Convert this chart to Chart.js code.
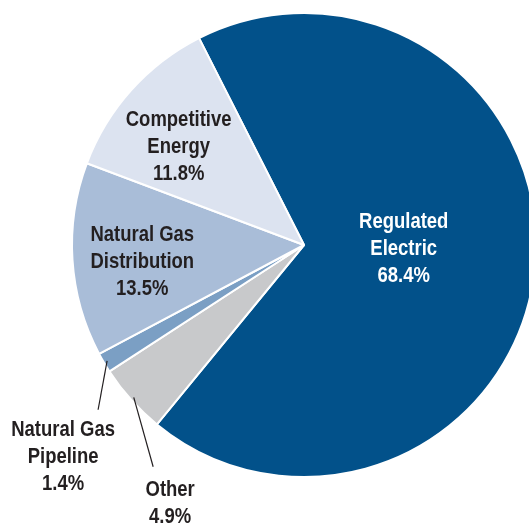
<!DOCTYPE html>
<html>
<head>
<meta charset="utf-8">
<script src="https://cdn.jsdelivr.net/npm/chart.js@4/dist/chart.umd.min.js"></script>
<style>
  html, body { margin: 0; padding: 0; background: #fff; overflow: hidden; }
  #wrap { position: absolute; left: 0; top: 0; width: 608px; height: 525px; }
</style>
</head>
<body>
<div id="wrap"><canvas id="pie" width="608" height="525"></canvas></div>
<script>
// Segment data, clockwise from the Regulated Electric edge
const segments = ['Regulated Electric', 'Other', 'Natural Gas Pipeline', 'Natural Gas Distribution', 'Competitive Energy'];
const shares = [68.4, 4.9, 1.4, 13.5, 11.8];
const labelLines = [
  ['Regulated', 'Electric', '68.4%'],
  ['Other', '4.9%'],
  ['Natural Gas', 'Pipeline', '1.4%'],
  ['Natural Gas', 'Distribution', '13.5%'],
  ['Competitive', 'Energy', '11.8%']
];

const colors = ['#02518a', '#c8c9cb', '#7b9fc4', '#a9bdd8', '#dce3f0'];
// no condensed face installed, so squeeze a bold sans horizontally
const FONT = 'bold 22px "Liberation Sans", Arial, sans-serif';
const SQUEEZE = 0.84;
const LINE_H = 27;
const BASE_SHIFT = 2;

// how each label sits relative to its slice: inside (angle nudge in deg, fraction of radius)
// or callout (leader line out of the slice, text below it)
const placement = [
  { inside: true, nudge: -5, frac: 0.43, color: '#ffffff' },
  { inside: false, lineEnd: [22, 67], text: [17, 21], color: '#231f20' },
  { inside: false, lineEnd: [-6, 47], text: [-35, 18], color: '#231f20' },
  { inside: true, nudge: -1.5, frac: 0.70, color: '#231f20' },
  { inside: true, nudge: -3.4, frac: 0.69, color: '#231f20' }
];

const sliceLabels = {
  id: 'sliceLabels',
  afterDraw(chart) {
    const ctx = chart.ctx;
    const arcs = chart.getDatasetMeta(0).data;
    ctx.save();
    ctx.font = FONT;
    ctx.textAlign = 'center';
    ctx.textBaseline = 'middle';
    arcs.forEach((arc, i) => {
      const p = placement[i];
      const lines = labelLines[i];
      const mid = (arc.startAngle + arc.endAngle) / 2;
      const r = arc.outerRadius;
      let tx, ty;
      if (p.inside) {
        const a = mid + p.nudge * Math.PI / 180;
        tx = arc.x + Math.cos(a) * r * p.frac;
        ty = arc.y + Math.sin(a) * r * p.frac - (lines.length - 1) * LINE_H / 2;
      } else {
        const sx = arc.x + Math.cos(mid) * r * 0.985;
        const sy = arc.y + Math.sin(mid) * r * 0.985;
        const ex = arc.x + Math.cos(mid) * r + p.lineEnd[0];
        const ey = arc.y + Math.sin(mid) * r + p.lineEnd[1];
        ctx.strokeStyle = '#231f20';
        ctx.lineWidth = 1.2;
        ctx.beginPath();
        ctx.moveTo(sx, sy);
        ctx.lineTo(ex, ey);
        ctx.stroke();
        tx = ex + p.text[0];
        ty = ey + p.text[1];
      }
      ctx.fillStyle = p.color;
      lines.forEach((t, k) => {
        ctx.save();
        ctx.translate(tx, ty + k * LINE_H + BASE_SHIFT);
        ctx.scale(SQUEEZE, 1);
        ctx.fillText(t, 0, 0);
        ctx.restore();
      });
    });
    ctx.restore();
  }
};

new Chart(document.getElementById('pie'), {
  type: 'pie',
  data: {
    labels: segments,
    datasets: [{
      data: shares,
      backgroundColor: colors,
      borderColor: '#ffffff',
      borderWidth: 2,
      hoverOffset: 0
    }]
  },
  options: {
    responsive: false,
    animation: false,
    rotation: -26.9,
    layout: { padding: { top: 12, bottom: 47, left: 0, right: 0 } },
    plugins: { legend: { display: false }, tooltip: { enabled: false } }
  },
  plugins: [sliceLabels]
});
</script>
</body>
</html>
